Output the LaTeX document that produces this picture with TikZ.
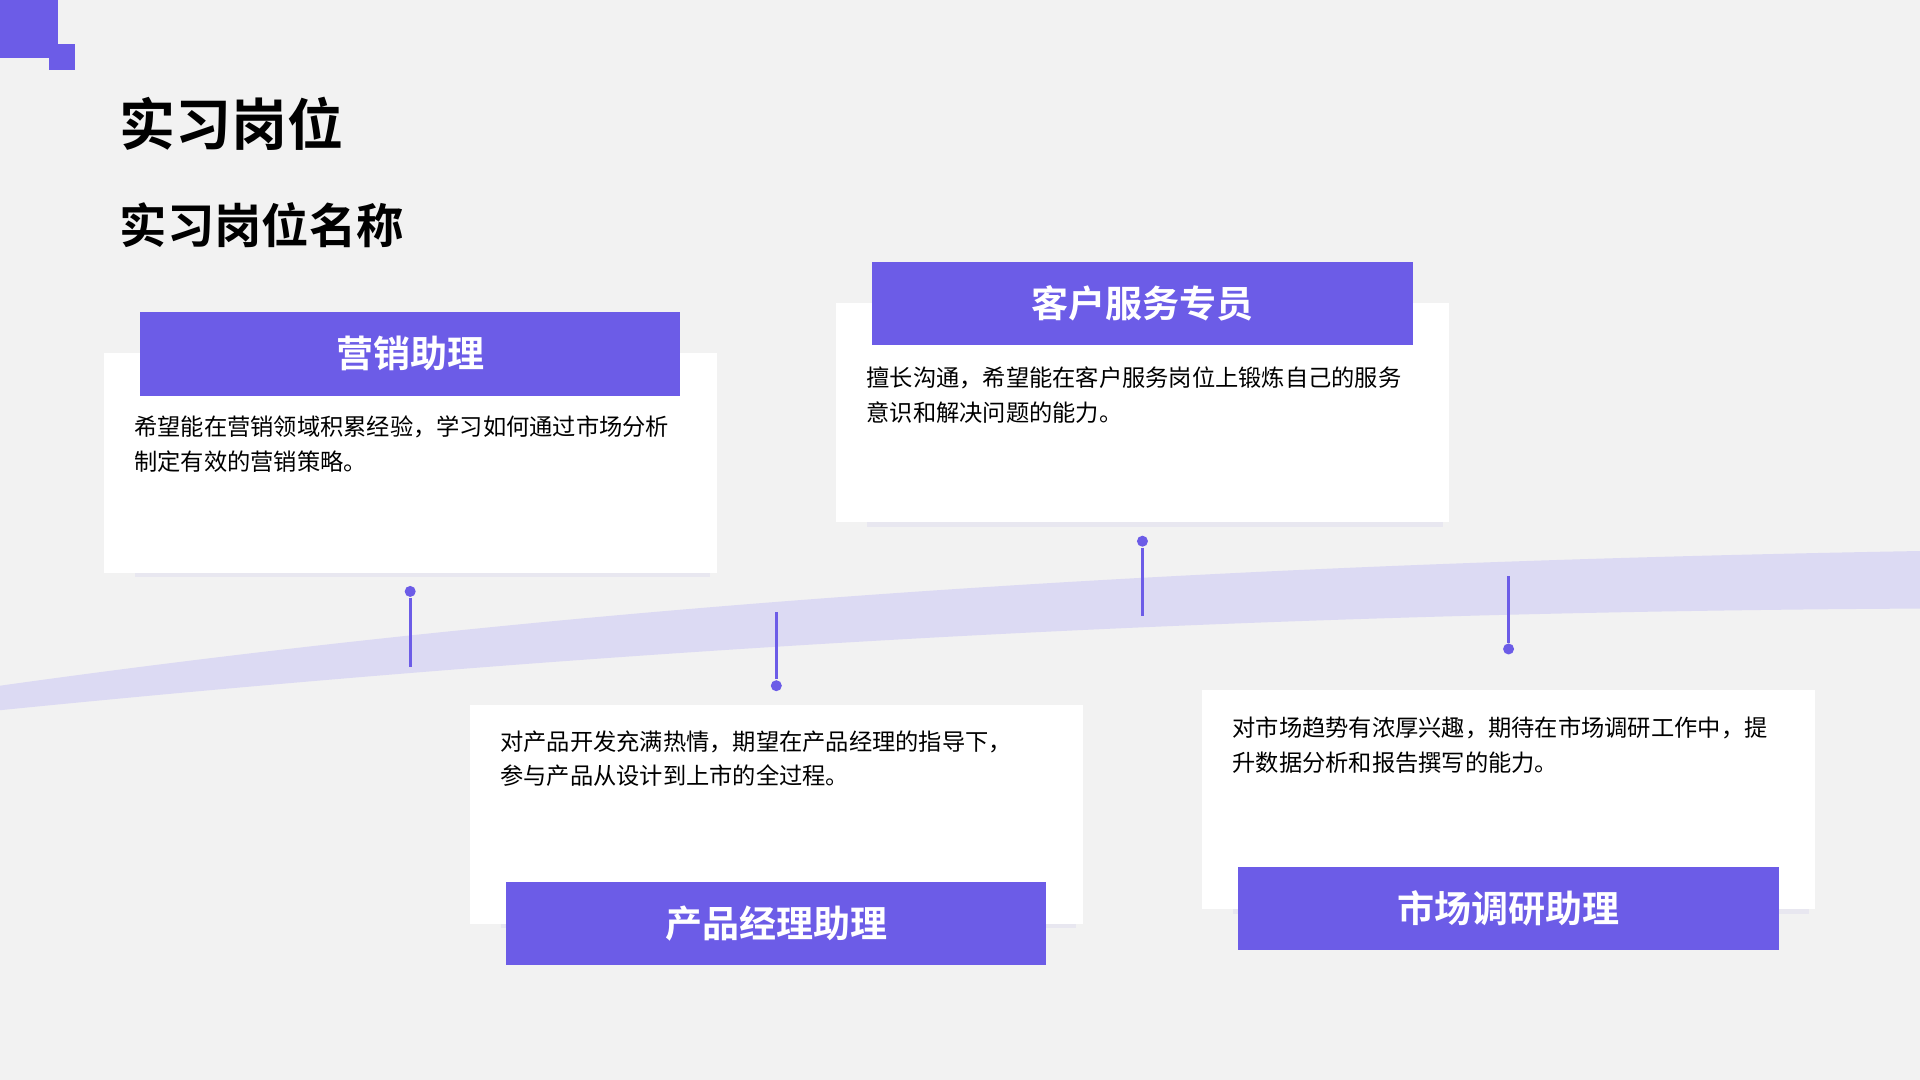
\documentclass[tikz,border=0pt]{standalone}
\usepackage{fontspec}
\setmainfont{Noto Sans CJK SC}
\newfontfamily\cjkbold{Noto Sans CJK SC Bold}
\definecolor{brand}{HTML}{6C5CE7}
\definecolor{bandc}{HTML}{DCDAF3}
\definecolor{bg}{HTML}{F2F2F2}
\definecolor{shade}{HTML}{E8E7F0}
\tikzset{
  card/.style={fill=white, minimum width=5cm, minimum height=1.79cm, inner sep=0pt},
  cardshadow/.style={fill=shade, minimum width=4.7cm, minimum height=1.7cm, inner sep=0pt},
  head/.style={fill=brand, text=white, minimum width=4.41cm, minimum height=0.68cm, inner sep=0pt, font={\cjkbold\fontsize{8.6pt}{10pt}\selectfont}},
  body/.style={anchor=north west, align=left, inner sep=0pt, font={\fontsize{5.4pt}{8pt}\selectfont}},
  stem/.style={brand, line width=0.7pt},
  dot/.style={circle, fill=brand, inner sep=0pt, minimum size=0.09cm}
}
\begin{document}
\begin{tikzpicture}[x=0.01cm,y=-0.01cm]
  \fill[bg] (0,0) rectangle (1568,882);
  \useasboundingbox (0,0) rectangle (1568,882);
  % corner mark
  \fill[brand] (0,0) rectangle (47,47);
  \fill[brand] (40,36) rectangle (61,57);
  % titles
  \node[anchor=west, inner sep=0pt, font={\cjkbold\fontsize{13pt}{14pt}\selectfont}] (title) at (97,101) {实习岗位};
  \node[anchor=west, inner sep=0pt, font={\cjkbold\fontsize{11pt}{12pt}\selectfont}] (subtitle) at (97,184) {实习岗位名称};
  % band
  \fill[bandc] (0,560) .. controls (500,490) and (1000,460) .. (1568,450)
    -- (1568,497) .. controls (1000,500) and (500,530) .. (0,580) -- cycle;

  % cards
  \node[cardshadow] at (345,386) {};
  \node[card] (c1) at (335,378) {};
  \node[head] (h1) at (335,289) {营销助理};
  \node[body] (t1) at (109,339) {希望能在营销领域积累经验，学习如何通过市场分析\\制定有效的营销策略。};

  \node[cardshadow] at (943,345) {};
  \node[card] (c2) at (933,337) {};
  \node[head] (h2) at (933,248) {客户服务专员};
  \node[body] (t2) at (707,299) {擅长沟通，希望能在客户服务岗位上锻炼自己的服务\\意识和解决问题的能力。};

  \node[cardshadow] at (644,673) {};
  \node[card] (c3) at (634,665) {};
  \node[head] (h3) at (634,754) {产品经理助理};
  \node[body] (t3) at (408,596) {对产品开发充满热情，期望在产品经理的指导下，\\参与产品从设计到上市的全过程。};

  \node[cardshadow] at (1242,661) {};
  \node[card] (c4) at (1232,653) {};
  \node[head] (h4) at (1232,742) {市场调研助理};
  \node[body] (t4) at (1006,585) {对市场趋势有浓厚兴趣，期待在市场调研工作中，提\\升数据分析和报告撰写的能力。};

  % stems
  \node[dot] (d1) at (335,483) {};
  \coordinate (e1) at (335,545);
  \draw[stem] (d1) -- (e1);
  \node[dot] (d2) at (933,442) {};
  \coordinate (e2) at (933,503);
  \draw[stem] (d2) -- (e2);
  \node[dot] (d3) at (634,560) {};
  \coordinate (e3) at (634,500);
  \draw[stem] (d3) -- (e3);
  \node[dot] (d4) at (1232,530) {};
  \coordinate (e4) at (1232,470);
  \draw[stem] (d4) -- (e4);
\end{tikzpicture}
\end{document}
